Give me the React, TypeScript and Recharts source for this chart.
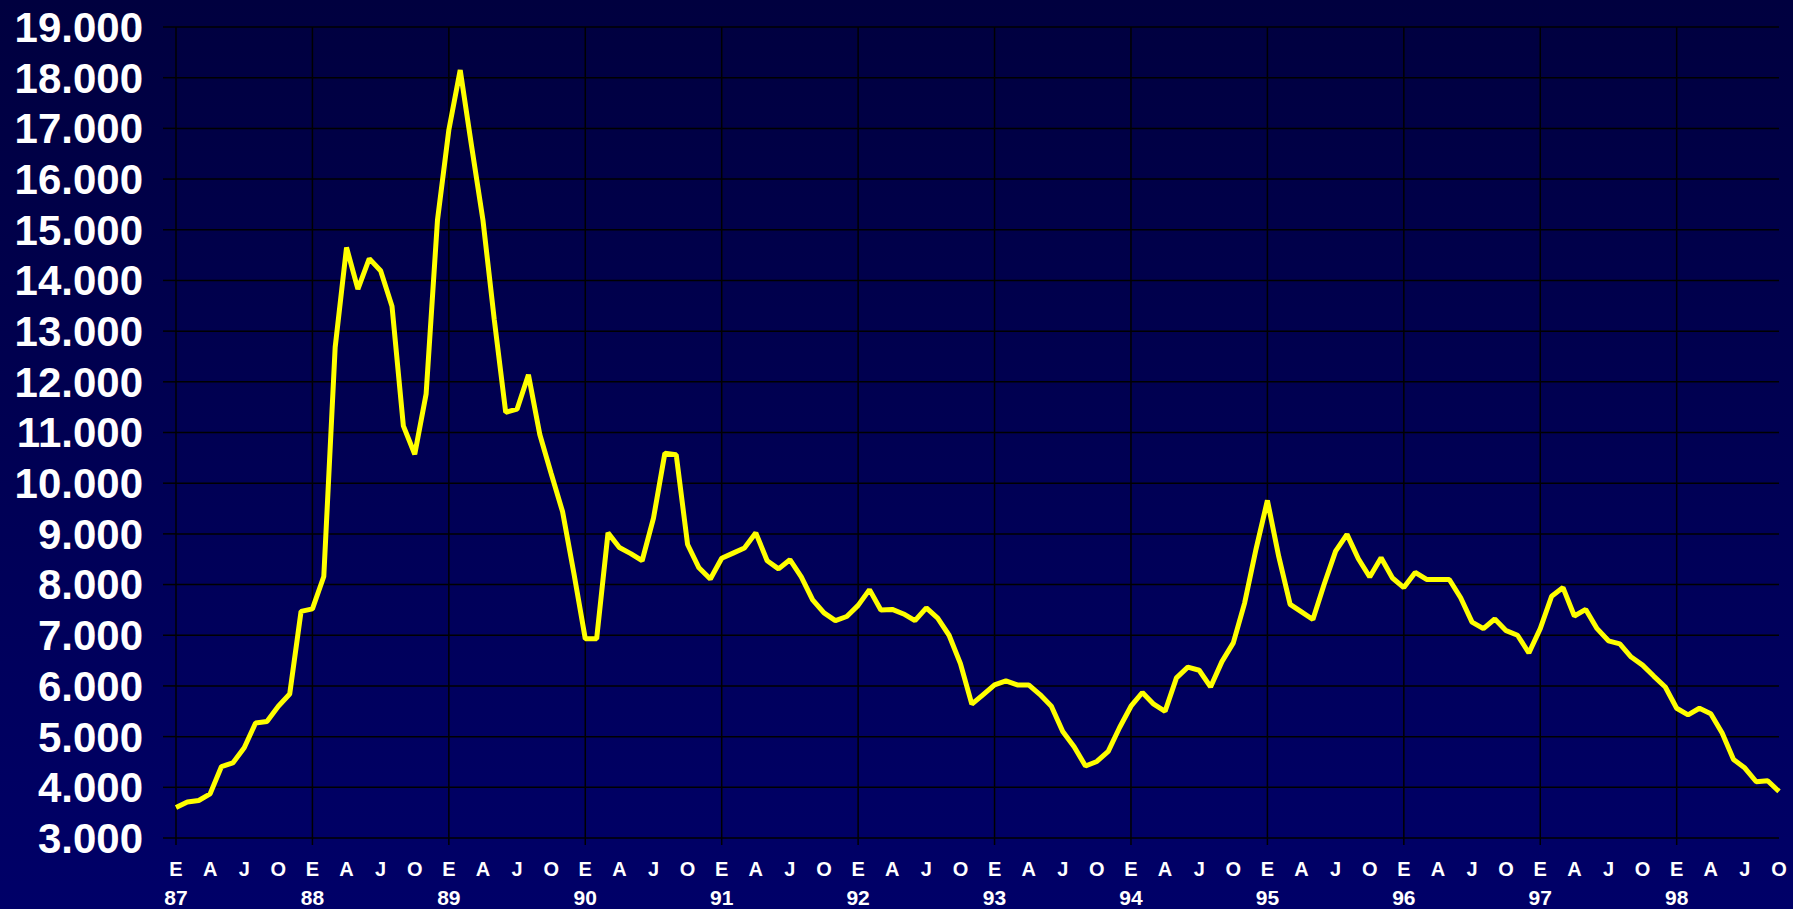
import { LineChart, Line, XAxis, YAxis, CartesianGrid, ReferenceLine } from "recharts";

// monthly values, Jan 87 .. Oct 98
const Y87 = [3600, 3710, 3740, 3870, 4410, 4480, 4780, 5270, 5300, 5600, 5840, 7470];
const Y88 = [7520, 8160, 12680, 14650, 13830, 14430, 14190, 13490, 11130, 10570, 11760, 15190];
const Y89 = [16970, 18150, 16650, 15190, 13220, 11400, 11460, 12140, 10960, 10190, 9440, 8220];
const Y90 = [6930, 6930, 9020, 8730, 8610, 8470, 9310, 10590, 10560, 8790, 8330, 8110];
const Y91 = [8520, 8620, 8720, 9020, 8470, 8310, 8490, 8150, 7700, 7440, 7290, 7370];
const Y92 = [7590, 7900, 7500, 7510, 7420, 7290, 7540, 7340, 7000, 6440, 5640, 5830];
const Y93 = [6020, 6100, 6020, 6020, 5830, 5600, 5100, 4800, 4420, 4510, 4710, 5180];
const Y94 = [5600, 5870, 5640, 5500, 6160, 6370, 6310, 5980, 6480, 6850, 7640, 8700];
const Y95 = [9660, 8550, 7610, 7460, 7310, 8010, 8660, 8990, 8510, 8150, 8530, 8130];
const Y96 = [7940, 8240, 8100, 8100, 8100, 7740, 7260, 7130, 7320, 7090, 7000, 6650];
const Y97 = [7130, 7770, 7940, 7380, 7510, 7130, 6890, 6830, 6570, 6410, 6190, 5980];
const Y98 = [5560, 5430, 5560, 5450, 5070, 4550, 4380, 4110, 4130, 3920];

const YEARS = ["87", "88", "89", "90", "91", "92", "93", "94", "95", "96", "97", "98"];
const MONTHS = ["E", "F", "M", "A", "M", "J", "J", "A", "S", "O", "N", "D"];
const Y_TICKS = [3000, 4000, 5000, 6000, 7000, 8000, 9000, 10000, 11000, 12000, 13000, 14000, 15000, 16000, 17000, 18000, 19000];

const values = [Y87, Y88, Y89, Y90, Y91, Y92, Y93, Y94, Y95, Y96, Y97, Y98].flat();
const data = values.map((v, i) => ({ i, v }));
const last = values.length - 1;
const xTicks = data.filter(d => d.i % 3 === 0).map(d => d.i);
const yearStarts = data.filter(d => d.i % 12 === 0).map(d => d.i);

const FONT = "'Liberation Sans', Arial, sans-serif";

function fmtY(v: number) {
  return `${v / 1000}.000`;
}

function MonthTick({ x, y, payload }: any) {
  const i = payload.value as number;
  const jan = i % 12 === 0;
  return (
    <g>
      {jan && <line x1={x} y1={y} x2={x} y2={y + 7} stroke="#000" strokeWidth={1.5} />}
      <text x={x} y={y + 38} textAnchor="middle" fill="#fff" fontSize={20} fontWeight={700} fontFamily={FONT}>
        {MONTHS[i % 12]}
      </text>
      {jan && (
        <text x={x} y={y + 67} textAnchor="middle" fill="#fff" fontSize={21} fontWeight={700} fontFamily={FONT}>
          {YEARS[i / 12]}
        </text>
      )}
    </g>
  );
}

export default function App() {
  return (
    <div style={{ position: "absolute", left: 0, top: 0, width: 1793, height: 909, background: "linear-gradient(#00003f, #000068)" }}>
      <LineChart width={1793} height={909} data={data} margin={{ top: 27, right: 14, left: 0, bottom: 0 }}>
        <CartesianGrid vertical={false} stroke="#000" strokeWidth={1.5} />
        <XAxis dataKey="i" type="number" domain={[0, last]} ticks={xTicks} interval={0}
          tickSize={0} tickMargin={0} tickLine={false} axisLine={false} height={71} tick={<MonthTick />} />
        <YAxis domain={[3000, 19000]} ticks={Y_TICKS} interval={0} width={176} axisLine={false}
          tickSize={13} tickMargin={20} tickLine={{ stroke: "#000", strokeWidth: 1.5 }} tickFormatter={fmtY}
          tick={{ fill: "#fff", fontSize: 42, fontWeight: 700, fontFamily: FONT }} />
        {yearStarts.map(x => <ReferenceLine key={x} x={x} stroke="#000" strokeWidth={1.5} />)}
        <Line type="linear" dataKey="v" stroke="#ffff00" strokeWidth={5} strokeLinejoin="bevel" dot={false} isAnimationActive={false} />
      </LineChart>
    </div>
  );
}
